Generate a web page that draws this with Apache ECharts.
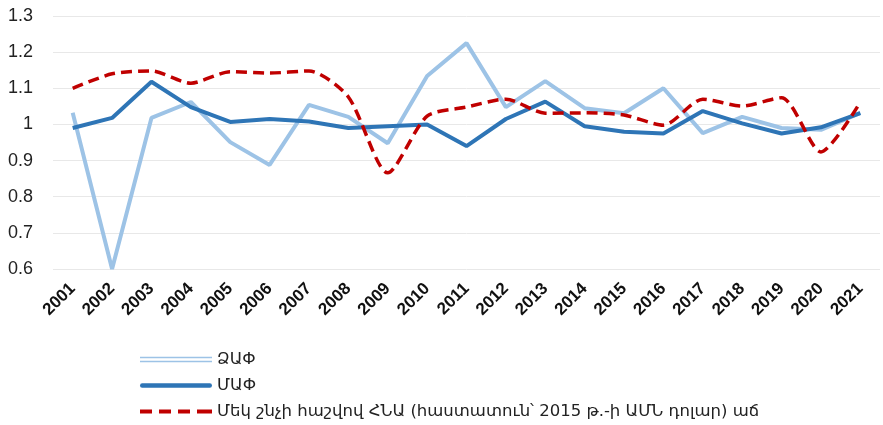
<!DOCTYPE html>
<html>
<head>
<meta charset="utf-8">
<script src="https://cdn.jsdelivr.net/npm/echarts@6/dist/echarts.min.js"></script>
<style>
    html, body { margin: 0; padding: 0; background: #fff; }
    #chartMain { width: 883px; height: 425px; }
</style>
</head>
<body>
<div id="chartMain"></div>
<script>
var years = ['2001', '2002', '2003', '2004', '2005', '2006', '2007', '2008', '2009', '2010', '2011',
    '2012', '2013', '2014', '2015', '2016', '2017', '2018', '2019', '2020', '2021'];
var yTicks = [0.6, 0.7, 0.8, 0.9, 1, 1.1, 1.2, 1.3];
var dzaf = [1.032, 0.60, 1.018, 1.062, 0.951, 0.888, 1.054, 1.021, 0.948, 1.134, 1.225,
    1.048, 1.12, 1.045, 1.031, 1.10, 0.976, 1.021, 0.99, 0.985, 1.032];
var maf = [0.99, 1.018, 1.118, 1.048, 1.007, 1.015, 1.008, 0.99, 0.995, 1.0, 0.94,
    1.015, 1.063, 0.995, 0.98, 0.975, 1.037, 1.003, 0.975, 0.992, 1.031];
var gdpPerHour = [1.10, 1.14, 1.148, 1.114, 1.146, 1.142, 1.148, 1.076, 0.866, 1.023, 1.048,
    1.07, 1.031, 1.032, 1.026, 0.998, 1.07, 1.051, 1.074, 0.924, 1.062];
var names = ['ՁԱՓ', 'ՄԱՓ', 'Մեկ շնչի հաշվով ՀՆԱ (հաստատուն՝ 2015 թ.-ի ԱՄՆ դոլար) աճ'];

getechart('chartMain', {
    animation: false,
    textStyle: { fontFamily: 'Liberation Sans, Arial, sans-serif' },
    grid: {
        left: 53,
        right: 3,
        top: 16,
        height: 253
    },
    legend: {
        orient: 'vertical',
        left: 140,
        top: 351,
        height: 90,
        padding: 0,
        itemWidth: 72,
        itemHeight: 12,
        itemGap: 9,
        textStyle: {
            fontSize: 16.5,
            color: '#222',
            fontFamily: 'DejaVu Sans, sans-serif'
        },
        data: [
            { name: names[0], icon: 'path://M0,0H72V1.5H0Z M0,4H72V5.5H0Z' },
            { name: names[1], icon: 'path://M2,0H70A2.2,2.2 0 0 1 70,4.4H2A2.2,2.2 0 0 1 2,0Z' },
            { name: names[2], icon: 'path://M0,0H12V4H0Z M19,0H31V4H19Z M38,0H50V4H38Z M57,0H72V4H57Z' }
        ]
    },
    xAxis: {
        type: 'category',
        data: years,
        axisLine: { show: false },
        axisTick: { show: false },
        axisLabel: {
            rotate: 45,
            margin: 17,
            fontSize: 17,
            fontWeight: 'bold',
            color: '#111',
            fontFamily: 'Liberation Sans Narrow, Liberation Sans, sans-serif',
            interval: 0
        }
    },
    yAxis: {
        type: 'value',
        min: yTicks[0],
        max: yTicks[yTicks.length - 1],
        interval: 0.1,
        axisLine: { show: false },
        axisLabel: {
            margin: 20,
            fontSize: 18,
            color: '#222',
            formatter: function (v) { return String(Math.round(v * 10) / 10); }
        },
        splitLine: {
            lineStyle: { color: '#e8e8e8', width: 1 }
        }
    },
    series: [
        {
            name: names[0],
            type: 'line',
            data: dzaf,
            symbol: 'none',
            color: '#9dc3e6',
            lineStyle: { width: 4, color: '#9dc3e6' }
        },
        {
            name: names[1],
            type: 'line',
            data: maf,
            symbol: 'none',
            color: '#2e75b6',
            lineStyle: { width: 4, color: '#2e75b6' }
        },
        {
            name: names[2],
            type: 'line',
            data: gdpPerHour,
            symbol: 'none',
            smooth: 0.25,
            color: '#c00000',
            lineStyle: { width: 3.5, color: '#c00000', type: [11, 6] }
        }
    ]
});

function getechart(idName, idOption) {
    var id = echarts.init(document.getElementById(idName));
    id.setOption(idOption);
    adaptionWindows(id);
}

function adaptionWindows(chartName) {
    window.addEventListener('resize', function () {
        chartName.resize();
    });
}
</script>
</body>
</html>
